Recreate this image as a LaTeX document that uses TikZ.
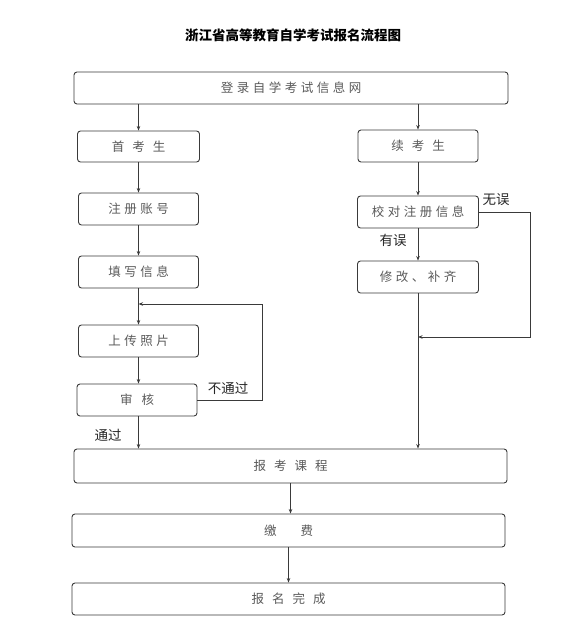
\documentclass[tikz,border=0pt]{standalone}
\usepackage{fontspec}
\newfontfamily\cjk{Noto Sans CJK SC}
\newfontfamily\cjkls[LetterSpace=28]{Noto Sans CJK SC}
\usetikzlibrary{arrows.meta}
\definecolor{boxtext}{HTML}{5A5A5A}
\definecolor{linec}{HTML}{3A3A3A}
\newcommand{\gp}[1]{\hspace{#1pt}}
\begin{document}
\begin{tikzpicture}[x=1pt,y=-1pt,
  box/.style={draw=linec,line width=0.9pt,rounded corners=3pt,inner sep=0pt,
    font=\cjkls\fontsize{12.5}{14}\selectfont,text=boxtext,anchor=center},
  smallbox/.style={box,minimum width=120pt,minimum height=32pt},
  widebox/.style={box,minimum width=433pt,minimum height=32pt},
  conn/.style={draw=linec,line width=0.8pt,-{Stealth[length=4.5pt,width=3.5pt]}},
  lbl/.style={font=\cjk\fontsize{13.5}{15}\selectfont,text=black!85,inner sep=0pt}]
\useasboundingbox[fill=white] (0,0) rectangle (586,639);
\node[font=\cjk\bfseries\fontsize{13.5}{16}\selectfont,inner sep=0pt] (title) at (293,35) {浙江省高等教育自学考试报名流程图};
\node[widebox,minimum width=434pt] (top) at (291,88) {登录自学考试信息网};
\node[smallbox,minimum width=122pt,minimum height=31pt] (s1) at (138.5,146.5) {首\gp{8}考\gp{8}生};
\node[smallbox] (s2) at (418,146) {续\gp{8}考\gp{8}生};
\node[smallbox] (zc) at (138.5,209) {注册账号};
\node[smallbox,minimum width=121pt] (jd) at (418,212) {校对注册信息};
\node[smallbox] (tx) at (138.5,272) {填写信息};
\node[smallbox,minimum width=121pt] (xg) at (418,277) {修改、补齐};
\node[smallbox] (sc) at (138.5,341) {上传照片};
\node[smallbox] (sh) at (137,400) {审\gp{9}核};
\node[widebox,minimum height=34pt] (bk) at (290.5,466) {报\gp{8}考\gp{8}课\gp{8}程};
\node[widebox,minimum height=33pt] (jf) at (288.5,530.5) {缴\gp{24}费};
\node[widebox] (wc) at (288.5,599) {报\gp{8}名\gp{8}完\gp{8}成};
\coordinate (r1) at (530,337);
\coordinate (l1) at (262,304);
\node[lbl] (l-wuwu) at (496,200) {无误};
\node[lbl] (l-youwu) at (393,240) {有误};
\node[lbl] (l-btg) at (228,388) {不通过};
\node[lbl] (l-tg) at (108,435) {通过};
\draw[conn] (s1.north |- top.south) -- (s1.north);
\draw[conn] (s2.north |- top.south) -- (s2.north);
\draw[conn] (s1.south) -- (s1.south |- zc.north);
\draw[conn] (zc.south) -- (tx.north);
\draw[conn] (tx.south) -- (sc.north);
\draw[conn] (sc.south) -- (sh.north -| sc.south);
\draw[conn] (sh.south -| sc.south) -- (sc.south |- bk.north);
\draw[conn] (sh.east) -| (l1) -- (tx.south |- l1);
\draw[conn] (s2.south) -- (jd.north -| s2.south);
\draw[conn] (jd.south) -- (xg.north);
\draw[conn] (xg.south) -- (xg.south |- bk.north);
\draw[conn] (jd.east) -| (r1) -- (xg.south |- r1);
\draw[conn] (bk.south) -- (bk.south |- jf.north);
\draw[conn] (jf.south) -- (wc.north -| jf.south);
\end{tikzpicture}
\end{document}
